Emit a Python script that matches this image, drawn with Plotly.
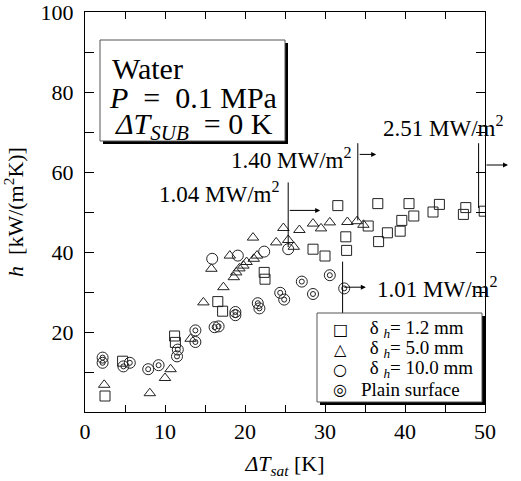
import plotly.graph_objects as go

# ---------------- data ----------------
sq_x = [2.5, 4.7, 11.2, 11.3, 16.6, 17.2, 22.4, 22.5, 28.5, 30.0, 31.6, 32.6, 32.7,
        35.4, 36.6, 36.7, 37.8, 39.4, 39.6, 40.5, 41.1, 43.5, 44.3, 47.3, 47.6, 49.9]
sq_y = [4.0, 12.7, 19.0, 17.4, 27.6, 25.2, 34.9, 33.2, 40.7, 39.0, 51.6, 43.8, 40.4,
        46.5, 52.1, 42.6, 44.8, 45.2, 47.9, 52.1, 49.0, 50.0, 51.9, 49.4, 51.1, 50.2]

tri_x = [2.4, 8.1, 10.0, 10.7, 13.2, 14.8, 15.8, 17.3, 18.1, 18.6, 18.9, 19.3, 19.8,
         20.2, 21.1, 21.5, 21.0, 23.9, 24.8, 25.4, 26.1, 26.8, 28.5, 29.5, 30.6,
         32.8, 34.0, 34.8]
tri_y = [6.8, 4.7, 8.5, 10.7, 18.3, 27.4, 35.8, 31.2, 39.1, 33.7, 34.9, 35.9, 36.6,
         37.5, 38.3, 39.1, 43.6, 42.4, 46.0, 43.0, 41.3, 45.5, 47.1, 45.9, 47.4,
         47.5, 47.7, 46.8]

cir_x = [15.9, 19.1, 22.4, 25.4]
cir_y = [38.3, 39.1, 40.1, 40.7]

pl_x = [2.2, 2.2, 4.8, 5.6, 7.9, 9.2, 11.6, 11.5, 13.8, 13.8, 16.2, 16.7, 18.8, 18.8,
        21.6, 21.8, 24.4, 24.9, 27.1, 28.5, 30.6, 32.4]
pl_y = [13.6, 12.3, 11.4, 12.3, 10.7, 11.7, 15.6, 13.9, 20.4, 17.5, 21.2, 21.4, 25.0,
        24.2, 27.2, 25.9, 29.8, 28.1, 32.6, 29.5, 34.2, 30.9]

legend_labels = ["\u00a0δ <sub><i>h</i></sub>= 1.2 mm", "\u00a0δ <sub><i>h</i></sub>= 5.0 mm",
                 "\u00a0δ <sub><i>h</i></sub>= 10.0 mm", "Plain surface"]
legend_symbols = ["□", "△", "○", "◎"]

x_ticks = [0, 10, 20, 30, 40, 50]
y_ticks = [20, 40, 60, 80, 100]

FONT = "Liberation Serif, Times New Roman, serif"
LC = "#222222"

fig = go.Figure()
fig.add_trace(go.Scatter(x=sq_x, y=sq_y, mode="markers", name="δh = 1.2 mm",
                         marker=dict(symbol="square-open", size=10, color=LC, line=dict(width=1)),
                         showlegend=False))
fig.add_trace(go.Scatter(x=tri_x, y=tri_y, mode="markers", name="δh = 5.0 mm",
                         marker=dict(symbol="triangle-up-open", size=10, color=LC, line=dict(width=1)),
                         showlegend=False))
fig.add_trace(go.Scatter(x=cir_x, y=cir_y, mode="markers", name="δh = 10.0 mm",
                         marker=dict(symbol="circle-open", size=11, color=LC, line=dict(width=1)),
                         showlegend=False))
fig.add_trace(go.Scatter(x=pl_x, y=pl_y, mode="markers", name="Plain surface",
                         marker=dict(symbol="circle-open", size=11, color=LC, line=dict(width=1)),
                         showlegend=False))
fig.add_trace(go.Scatter(x=pl_x, y=pl_y, mode="markers", name="Plain surface (inner)",
                         marker=dict(symbol="circle-open", size=5, color=LC, line=dict(width=1)),
                         showlegend=False, hoverinfo="skip"))

ML, MT, PW, PH = 85, 12, 400, 400


def px2pap(px, py):
    return (px - ML) / PW, (MT + PH - py) / PH


shapes = []
annotations = []

# info box
x0, y1 = px2pap(100, 40)
x1, y0 = px2pap(285, 141)
sh = 3 / PW
shapes.append(dict(type="rect", xref="paper", yref="paper", x0=x0 + sh, x1=x1 + sh,
                   y0=y0 - sh, y1=y1 - sh, fillcolor="black", line=dict(width=0)))
shapes.append(dict(type="rect", xref="paper", yref="paper", x0=x0, x1=x1, y0=y0, y1=y1,
                   fillcolor="white", line=dict(color="#555555", width=1)))
info_lines = [("Water", 110, 68),
              ("<i>P</i>\u2002=\u20020.1 MPa", 107, 98),
              ("<i>ΔT</i><sub><i>SUB</i></sub>\u2002= 0 K", 113, 126)]
for txt, px, py in info_lines:
    ax_, ay_ = px2pap(px, py)
    annotations.append(dict(text=txt, xref="paper", yref="paper", x=ax_, y=ay_,
                            xanchor="left", yanchor="middle", showarrow=False,
                            font=dict(family=FONT, size=30, color="black")))

# legend box
lx0, ly1 = px2pap(317, 313)
lx1, ly0 = px2pap(482, 402)
shapes.append(dict(type="rect", xref="paper", yref="paper", x0=lx0 + sh, x1=lx1 + sh,
                   y0=ly0 - sh, y1=ly1 - sh, fillcolor="black", line=dict(width=0)))
shapes.append(dict(type="rect", xref="paper", yref="paper", x0=lx0, x1=lx1, y0=ly0, y1=ly1,
                   fillcolor="white", line=dict(color="#555555", width=1)))
rows_py = [329, 349, 369, 389]
text_px = [363, 363, 363, 359]
for sym, lab, py, tpx in zip(legend_symbols, legend_labels, rows_py, text_px):
    sx, sy = px2pap(340, py)
    annotations.append(dict(text=sym, xref="paper", yref="paper", x=sx, y=sy,
                            xanchor="center", yanchor="middle", showarrow=False,
                            font=dict(family="DejaVu Sans", size=16, color="black")))
    tx, ty = px2pap(tpx, py)
    annotations.append(dict(text=lab, xref="paper", yref="paper", x=tx, y=ty,
                            xanchor="left", yanchor="middle", showarrow=False,
                            font=dict(family=FONT, size=19, color="black")))

# heat-flux labels and pointers
AF = dict(family=FONT, size=23, color="black")
annotations.append(dict(text="1.04 MW/m<sup>2</sup>", x=24.6, y=55.0, xanchor="right",
                        yanchor="middle", showarrow=False, font=AF))
annotations.append(dict(text="1.40 MW/m<sup>2</sup>", x=33.6, y=63.5, xanchor="right",
                        yanchor="middle", showarrow=False, font=AF))
tx, ty = px2pap(381, 127)
annotations.append(dict(text="2.51 MW/m<sup>2</sup>", xref="paper", yref="paper", x=tx, y=ty,
                        xanchor="left", yanchor="middle", showarrow=False, font=AF))
tx, ty = px2pap(375, 287)
annotations.append(dict(text="1.01 MW/m<sup>2</sup>", xref="paper", yref="paper", x=tx, y=ty,
                        xanchor="left", yanchor="middle", showarrow=False, font=AF))

# vertical pointer lines (data coordinates)
for xv, ya, yb in [(25.4, 41.2, 57.4), (34.1, 47.9, 67.2), (49.2, 51.0, 67.2), (32.2, 24.8, 37.6)]:
    shapes.append(dict(type="line", xref="x", yref="y", x0=xv, x1=xv, y0=ya, y1=yb,
                       line=dict(color="black", width=1)))

# horizontal arrows
arrow_common = dict(text="", showarrow=True, arrowhead=2, arrowsize=1, arrowwidth=1,
                    arrowcolor="black", ay=0)
annotations.append(dict(x=29.4, y=50.4, ax=-32, **arrow_common))
annotations.append(dict(x=36.4, y=64.4, ax=-18, **arrow_common))
annotations.append(dict(x=35.1, y=31.2, ax=-23, **arrow_common))
tx, ty = px2pap(508, 165)
annotations.append(dict(xref="paper", yref="paper", x=tx, y=ty, ax=-23, **arrow_common))

axis_common = dict(showline=True, linecolor="black", linewidth=1, mirror="ticks",
                   ticks="inside", tickcolor="black", showgrid=False, automargin=False,
                   ticklabeloverflow="allow",
                   zeroline=False, tickfont=dict(family=FONT, size=22, color="black"))

fig.update_layout(
    width=521, height=481,
    margin=dict(l=ML, r=521 - ML - PW, t=MT, b=481 - MT - PH, autoexpand=False),
    paper_bgcolor="white", plot_bgcolor="white",
    showlegend=False,
    xaxis=dict(range=[0, 50], tickvals=x_ticks, ticktext=[str(v) for v in x_ticks],
               ticklen=7,
               minor=dict(dtick=5, ticks="inside", ticklen=7, tickcolor="black"),
               title=dict(text="<i>ΔT</i><sub><i>sat</i></sub> [K]",
                          font=dict(family=FONT, size=22, color="black"), standoff=12),
               **axis_common),
    yaxis=dict(range=[0, 100], tickvals=y_ticks, ticktext=[str(v) for v in y_ticks],
               ticklen=9, ticklabelstandoff=6,
               minor=dict(dtick=10, ticks="inside", ticklen=9, tickcolor="black"),
               title=dict(text="<i>h</i>  [kW/(m<sup>2</sup>K)]",
                          font=dict(family=FONT, size=22, color="black"), standoff=14),
               **axis_common),
    shapes=shapes,
    annotations=annotations,
)

fig.write_html("out.html", config={"displayModeBar": False},
               post_script="document.body.style.margin='0px';")
